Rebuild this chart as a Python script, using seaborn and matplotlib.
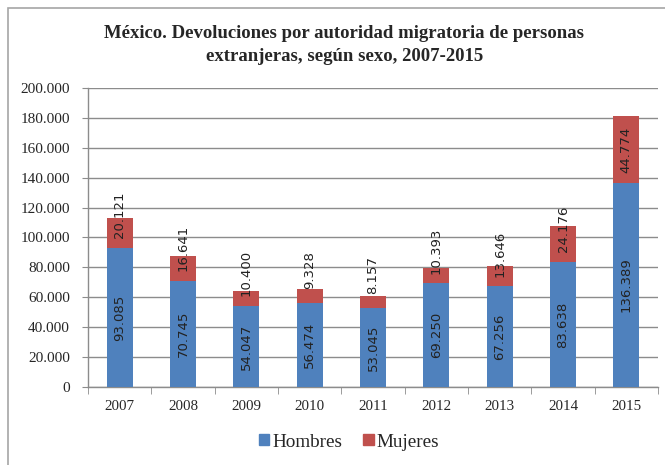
import matplotlib
matplotlib.use("Agg")
import matplotlib.pyplot as plt
import seaborn as sns
import pandas as pd
from matplotlib.patches import Rectangle, Patch

years = ["2007", "2008", "2009", "2010", "2011", "2012", "2013", "2014", "2015"]
hombres = [93085, 70745, 54047, 56474, 53045, 69250, 67256, 83638, 136389]
mujeres = [20121, 16641, 10400, 9328, 8157, 10393, 13646, 24176, 44774]

blue = "#4F81BD"
red = "#C0504D"

df = pd.DataFrame({"year": years, "hombres": hombres, "mujeres": mujeres})
df["total"] = df["hombres"] + df["mujeres"]

sns.set_style("white")
plt.rcParams["font.family"] = ["Liberation Serif", "DejaVu Serif"]

fig = plt.figure(figsize=(6.65, 4.65), dpi=100)
ax = fig.add_axes([88 / 665, 1 - 387 / 465, 570 / 665, 299 / 465])

# frame around the whole chart
fig.patches.append(Rectangle((8 / 665, -0.1), 1.2, 1 - 8 / 465 + 0.1,
                             transform=fig.transFigure, fill=False,
                             edgecolor="#a6a6a6", linewidth=1.2))

sns.barplot(data=df, x="year", y="total", color=red, width=0.41,
            saturation=1, linewidth=0, ax=ax, zorder=3)
sns.barplot(data=df, x="year", y="hombres", color=blue, width=0.41,
            saturation=1, linewidth=0, ax=ax, zorder=3)

lab_font = dict(family="DejaVu Sans", fontsize=9.5, rotation=90,
                ha="center", va="center", color="#222222", zorder=5)
for i, (h, m) in enumerate(zip(hombres, mujeres)):
    ax.text(i, h / 2, f"{h:,}".replace(",", "."), **lab_font)
    # small segments: label pushed up so it sticks out of the bar
    ym = max(h + m / 2, h + 22000)
    ax.text(i, ym, f"{m:,}".replace(",", "."), **lab_font)

ax.set_ylim(0, 200000)
ax.set_xlim(-0.5, 8.5)
ax.set_yticks(range(0, 200001, 20000))
ax.set_yticklabels([f"{v:,}".replace(",", ".") if v else "0"
                    for v in range(0, 200001, 20000)], fontsize=11)
ax.set_xticklabels(years, fontsize=10.8)
ax.set_xlabel("")
ax.set_ylabel("")
ax.yaxis.grid(True, color="#8c8c8c", linewidth=1)
ax.set_axisbelow(True)

for side in ["top", "right"]:
    ax.spines[side].set_visible(False)
for side in ["left", "bottom"]:
    ax.spines[side].set_color("#8c8c8c")
    ax.spines[side].set_linewidth(1)

ax.tick_params(axis="y", left=True, length=4, color="#8c8c8c", pad=9)
ax.tick_params(axis="x", bottom=False, pad=6)
ax.set_xticks([i - 0.5 for i in range(10)], minor=True)
ax.tick_params(axis="x", which="minor", bottom=True, length=5,
               color="#8c8c8c")

fig.text(344 / 665, 1 - 34 / 465,
         "México. Devoluciones por autoridad migratoria de personas",
         ha="center", va="center", fontsize=13.5, fontweight="bold")
fig.text(345 / 665, 1 - 56 / 465,
         "extranjeras, según sexo, 2007-2015",
         ha="center", va="center", fontsize=13.5, fontweight="bold")

handles = [Patch(color=blue, label="Hombres"), Patch(color=red, label="Mujeres")]
fig.legend(handles=handles, loc="center", bbox_to_anchor=(349 / 665, 1 - 442 / 465),
           ncol=2, frameon=False, fontsize=13.8, handlelength=0.55,
           handleheight=0.55, handletextpad=0.15, columnspacing=1.1)

fig.savefig("out.png", dpi=100)
